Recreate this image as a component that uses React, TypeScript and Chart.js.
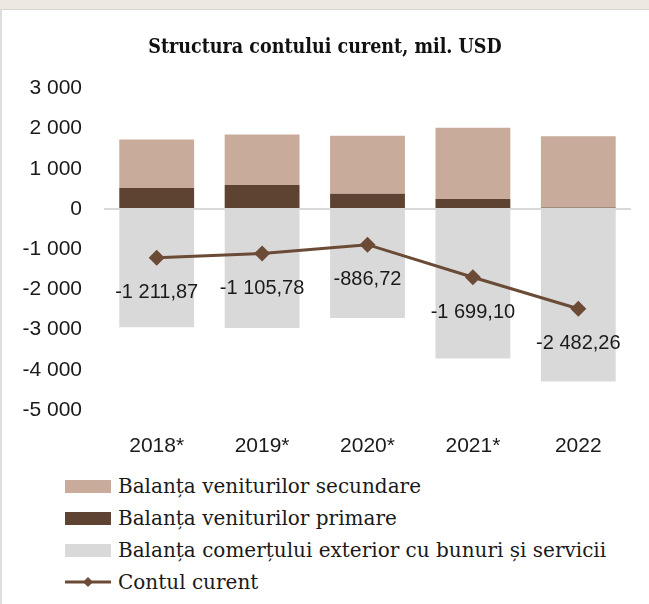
import React, { useEffect, useRef } from "react";
import { Chart, registerables } from "chart.js";

Chart.register(...registerables);

const categories = ["2018*", "2019*", "2020*", "2021*", "2022"];
const secondaryIncome = [1210, 1255, 1445, 1770, 1770];
const primaryIncome = [520, 600, 380, 250, 40];
const tradeBalance = [-2940, -2960, -2710, -3720, -4290];
const currentAccount = [-1211.87, -1105.78, -886.72, -1699.1, -2482.26];
const yTicks = [3000, 2000, 1000, 0, -1000, -2000, -3000, -4000, -5000];

const seriesNames = [
  "Balanța veniturilor secundare",
  "Balanța veniturilor primare",
  "Balanța comerțului exterior cu bunuri și servicii",
  "Contul curent",
];

const COL_SEC = "#c9ab9b";
const COL_PRIM = "#5e4332";
const COL_TRADE = "#d9d9d9";
const COL_LINE = "#6b4a36";

const SANS = "'Liberation Sans', Arial, sans-serif";
const SERIF = "'DejaVu Serif', serif";
const SERIF_COND = "'DejaVu Serif Condensed', 'DejaVu Serif', serif";

function groupThousands(s: string): string {
  return s.replace(/\B(?=(\d{3})+(?!\d))/g, " ");
}
function fmtInt(v: number): string {
  const neg = v < 0;
  const s = groupThousands(Math.abs(Math.round(v)).toString());
  return (neg ? "-" : "") + s;
}
function fmtDec(v: number): string {
  const neg = v < 0;
  const [i, d] = Math.abs(v).toFixed(2).split(".");
  return (neg ? "-" : "") + groupThousands(i) + "," + d;
}

const valueLabels = {
  id: "valueLabels",
  afterDatasetsDraw(chart: any) {
    const ctx = chart.ctx;
    const idx = chart.data.datasets.findIndex((d: any) => d.type === "line");
    if (idx < 0) return;
    const meta = chart.getDatasetMeta(idx);
    ctx.save();
    ctx.font = `20px ${SANS}`;
    ctx.fillStyle = "#1a1a1a";
    ctx.textAlign = "center";
    ctx.textBaseline = "middle";
    meta.data.forEach((pt: any, i: number) => {
      const v = chart.data.datasets[idx].data[i];
      ctx.fillText(fmtDec(v), pt.x, pt.y + 35);
    });
    ctx.restore();
  },
};

function LegendRow({ top, kind, color, text }: any) {
  return (
    <div
      style={{
        position: "absolute",
        left: 63,
        top: top - 13,
        height: 26,
        display: "flex",
        alignItems: "center",
        whiteSpace: "nowrap",
      }}
    >
      {kind === "box" ? (
        <div style={{ width: 46, height: 13, background: color, flex: "none" }} />
      ) : (
        <svg width={46} height={14} style={{ flex: "none", display: "block" }}>
          <line x1={0} y1={7} x2={46} y2={7} stroke={color} strokeWidth={3} />
          <polygon points="23,2 28,7 23,12 18,7" fill={color} />
        </svg>
      )}
      <span
        style={{
          marginLeft: 7,
          fontFamily: SERIF,
          fontSize: 20,
          color: "#1a1a1a",
          lineHeight: "26px",
        }}
      >
        {text}
      </span>
    </div>
  );
}

export default function App() {
  const canvasRef = useRef<HTMLCanvasElement | null>(null);

  useEffect(() => {
    document.body.style.margin = "0";
    const canvas = canvasRef.current;
    if (!canvas) return;
    const chart = new Chart(canvas, {
      type: "bar",
      data: {
        labels: categories,
        datasets: [
          {
            type: "line",
            label: seriesNames[3],
            data: currentAccount,
            borderColor: COL_LINE,
            backgroundColor: COL_LINE,
            borderWidth: 3,
            pointStyle: "rectRot",
            pointRadius: 8,
            pointBackgroundColor: COL_LINE,
            pointBorderColor: COL_LINE,
            pointBorderWidth: 0,
            tension: 0,
            stack: "line",
            order: 0,
          } as any,
          {
            label: seriesNames[1],
            data: primaryIncome,
            backgroundColor: COL_PRIM,
            stack: "bars",
            order: 1,
          },
          {
            label: seriesNames[0],
            data: secondaryIncome,
            backgroundColor: COL_SEC,
            stack: "bars",
            order: 1,
          },
          {
            label: seriesNames[2],
            data: tradeBalance,
            backgroundColor: COL_TRADE,
            stack: "bars",
            order: 1,
          },
        ],
      },
      options: {
        animation: false,
        responsive: false,
        maintainAspectRatio: false,
        layout: { padding: { left: 17, right: 18, top: 0, bottom: 0 } },
        datasets: {
          bar: { categoryPercentage: 0.71, barPercentage: 1, borderWidth: 0 },
        },
        plugins: {
          legend: { display: false },
          tooltip: { enabled: false },
          title: {
            display: true,
            text: "Structura contului curent, mil. USD",
            color: "#111",
            font: { family: SERIF_COND, size: 19.5, weight: "bold" },
            padding: { top: 26, bottom: 29 },
          },
        },
        scales: {
          x: {
            stacked: true,
            grid: { display: false },
            border: { display: false },
            ticks: {
              color: "#1a1a1a",
              font: { family: SANS, size: 21 },
              padding: 16,
              maxRotation: 0,
              autoSkip: false,
            },
            afterFit: (s: any) => {
              s.height = 55;
            },
          },
          y: {
            stacked: true,
            min: -5000,
            max: 3000,
            afterBuildTicks: (s: any) => {
              s.ticks = yTicks.map((v) => ({ value: v }));
            },
            grid: {
              drawTicks: false,
              lineWidth: 2,
              color: (c: any) => (c.tick && c.tick.value === 0 ? "#d9d9d9" : "rgba(0,0,0,0)"),
            },
            border: { display: false },
            ticks: {
              color: "#1a1a1a",
              font: { family: SANS, size: 21 },
              padding: 22,
              callback: (v: any) => fmtInt(Number(v)),
            },
            afterFit: (s: any) => {
              s.width = 85;
            },
          },
        },
      },
      plugins: [valueLabels],
    });
    return () => chart.destroy();
  }, []);

  return (
    <div
      style={{
        position: "relative",
        width: 649,
        height: 604,
        background: "#ede8e2",
        overflow: "hidden",
      }}
    >
      <div
        style={{
          position: "absolute",
          left: 0,
          top: 9,
          width: 649,
          height: 595,
          background: "#ffffff",
          borderTop: "1px solid #d6d6d6",
          borderLeft: "2px solid #dedede",
          boxSizing: "border-box",
        }}
      >
        <canvas
          ref={canvasRef}
          width={647}
          height={455}
          style={{ position: "absolute", left: 0, top: 0, width: 647, height: 455 }}
        />
        <LegendRow top={476} kind="box" color={COL_SEC} text={seriesNames[0]} />
        <LegendRow top={508} kind="box" color={COL_PRIM} text={seriesNames[1]} />
        <LegendRow top={540} kind="box" color={COL_TRADE} text={seriesNames[2]} />
        <LegendRow top={572} kind="line" color={COL_LINE} text={seriesNames[3]} />
      </div>
    </div>
  );
}
